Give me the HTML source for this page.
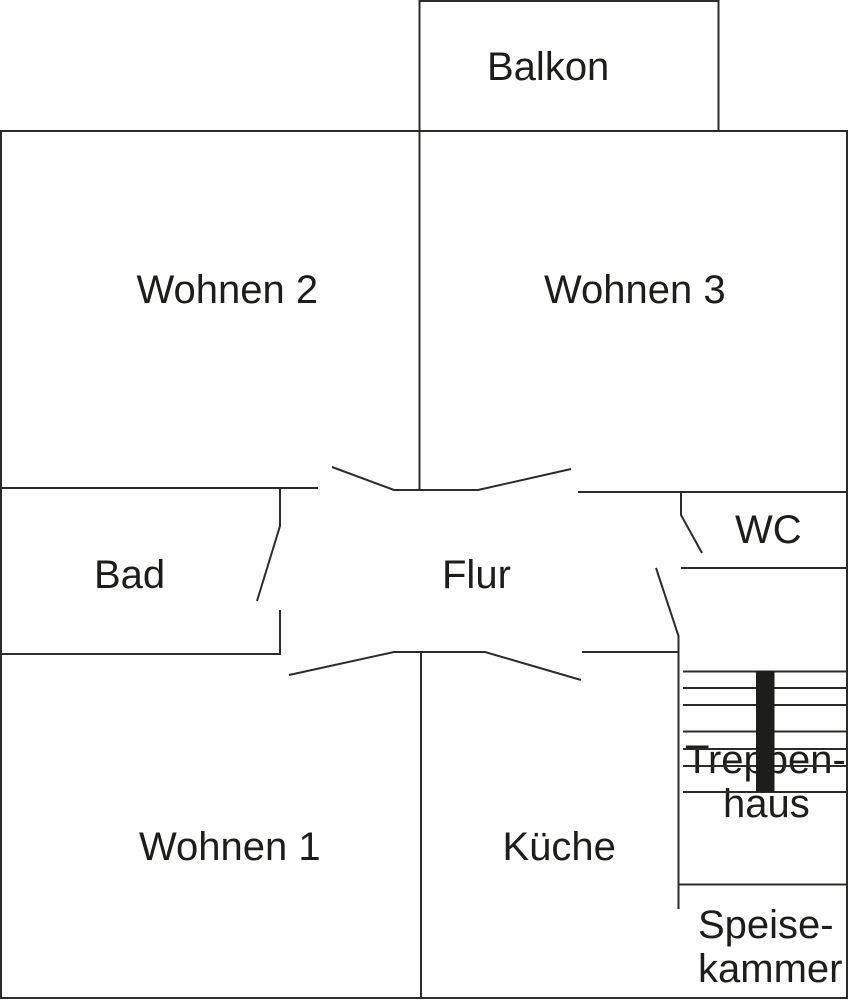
<!DOCTYPE html>
<html>
<head>
<meta charset="utf-8">
<style>
html,body{margin:0;padding:0;background:#fff}
svg{display:block}
text{font-family:"Liberation Sans",Arial,sans-serif;font-size:40px;fill:#1d1d1b}
.l{fill:none;stroke:#2b2b2a;stroke-width:2}
</style>
</head>
<body>
<svg width="848" height="1000" viewBox="0 0 848 1000" xmlns="http://www.w3.org/2000/svg">
<rect width="848" height="1000" fill="#fff"/>
<text x="487" y="80">Balkon</text>
<text x="136.500" y="303">Wohnen 2</text>
<text x="544" y="303">Wohnen 3</text>
<text x="735" y="543">WC</text>
<text x="94" y="588">Bad</text>
<text x="442" y="588">Flur</text>
<text x="139" y="860">Wohnen 1</text>
<text x="502.500" y="860">Küche</text>
<text x="685" y="773">Treppen-</text>
<text x="723" y="817">haus</text>
<text x="698" y="938">Speise-</text>
<text x="698" y="982">kammer</text>
<g class="l">
<path d="M419.5 131V1H718.5V131"/>
<path d="M1 131H847V998H1Z"/>
<path d="M419.5 131V490"/>
<path d="M1 488H318"/>
<path d="M280 488V526L257 601"/>
<path d="M1 654H280V610"/>
<path d="M332 467L394 490H478L571 469"/>
<path d="M578 492H847"/>
<path d="M681 492V515L702 553"/>
<path d="M681 568H847"/>
<path d="M656 568L678.5 636V909"/>
<path d="M582 652H678"/>
<path d="M289 675L394 652H485L581 680"/>
<path d="M421 652V998"/>
<path d="M683 671.5H847M683 688H847M683 705H847M683 731.5H847M683 749H847M683 766H847M683 792H847"/>
<path d="M679 884.500H847"/>
</g>
<rect x="756" y="671" width="18.500" height="121" fill="#1d1d1b"/>
</svg>
</body>
</html>
